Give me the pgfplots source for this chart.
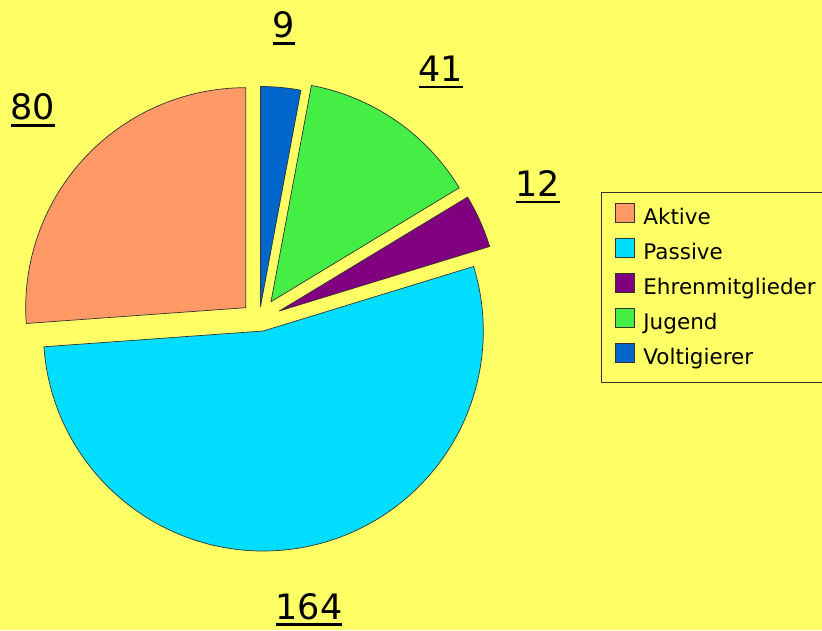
\documentclass[border=0pt]{standalone}
\usepackage{pgfplots}
\pgfplotsset{compat=1.18}
\usepackage{fontspec}
\setmainfont{DejaVu Sans}
\definecolor{bg}{RGB}{255,255,102}
\definecolor{aktiv}{RGB}{255,153,102}
\definecolor{passiv}{RGB}{0,221,255}
\definecolor{ehren}{RGB}{128,0,128}
\definecolor{jugend}{RGB}{68,238,68}
\definecolor{volt}{RGB}{0,102,204}
% slice: #1 cumulative start value, #2 value, #3/#4 apex (axis units), #5 colour
\newcommand\slice[5]{%
  \pgfmathsetmacro\sa{90+#1/306*360}%
  \pgfmathsetmacro\sb{90+(#1+#2)/306*360}%
  \edef\temp{\noexpand\filldraw[fill=#5,draw=black!80,line width=0.7pt,line join=round]
    (axis cs:#3,#4) -- ++(\sa:220pt) arc[start angle=\sa,end angle=\sb,radius=220pt] -- cycle;}%
  \temp}
\newcommand\ul[1]{\vtop{\hbox{#1}\kern4pt\hrule height 2.2pt}}
\newcommand\vlabel[3]{\node[anchor=base,inner sep=0pt,font=\fontsize{35}{40}\selectfont] at (axis cs:#1,#2) {\ul{#3}};}
\begin{document}
\begin{tikzpicture}
\begin{axis}[x=1pt,y=1pt,xmin=0,xmax=822,ymin=0,ymax=630,
  hide axis,clip=false,
  legend cell align=left,
  legend style={at={(axis cs:615,427)},anchor=north west,draw=none,fill=none,
    inner sep=0pt,font=\fontsize{21.5}{25}\selectfont,
    row sep=7.65pt,
    nodes={inner sep=0pt,text height=17pt,text depth=6pt},
    /tikz/every odd column/.append style={column sep=8.5pt}},
  legend image code/.code={\draw[#1,line width=0.7pt] (0pt,-3.5pt) rectangle (19pt,15.5pt);},
]
\fill[bg] (axis cs:0,0) rectangle (axis cs:822,630);
\coordinate (bl) at (axis cs:0,0);
\coordinate (tr) at (axis cs:822,630);
\draw[black!80,line width=0.8pt] (axis cs:830,247.3) -- (axis cs:601.7,247.3) -- (axis cs:601.7,437.3) -- (axis cs:830,437.3);
\slice{0}{80}{245.7}{322.3}{aktiv}
\slice{80}{164}{263.3}{299}{passiv}
\slice{244}{12}{279.3}{319}{ehren}
\slice{256}{41}{271}{328.3}{jugend}
\slice{297}{9}{260.5}{323.5}{volt}
\vlabel{33}{510}{80}
\vlabel{309}{11}{164}
\vlabel{538}{433.3}{12}
\vlabel{441}{548}{41}
\vlabel{284}{592}{9}
\addlegendimage{fill=aktiv,draw=black!80}
\addlegendentry{Aktive}
\addlegendimage{fill=passiv,draw=black!80}
\addlegendentry{Passive}
\addlegendimage{fill=ehren,draw=black!80}
\addlegendentry{Ehrenmitglieder}
\addlegendimage{fill=jugend,draw=black!80}
\addlegendentry{Jugend}
\addlegendimage{fill=volt,draw=black!80}
\addlegendentry{Voltigierer}
\end{axis}
\pgfresetboundingbox
\path[use as bounding box] (bl) rectangle (tr);
\end{tikzpicture}
\end{document}
